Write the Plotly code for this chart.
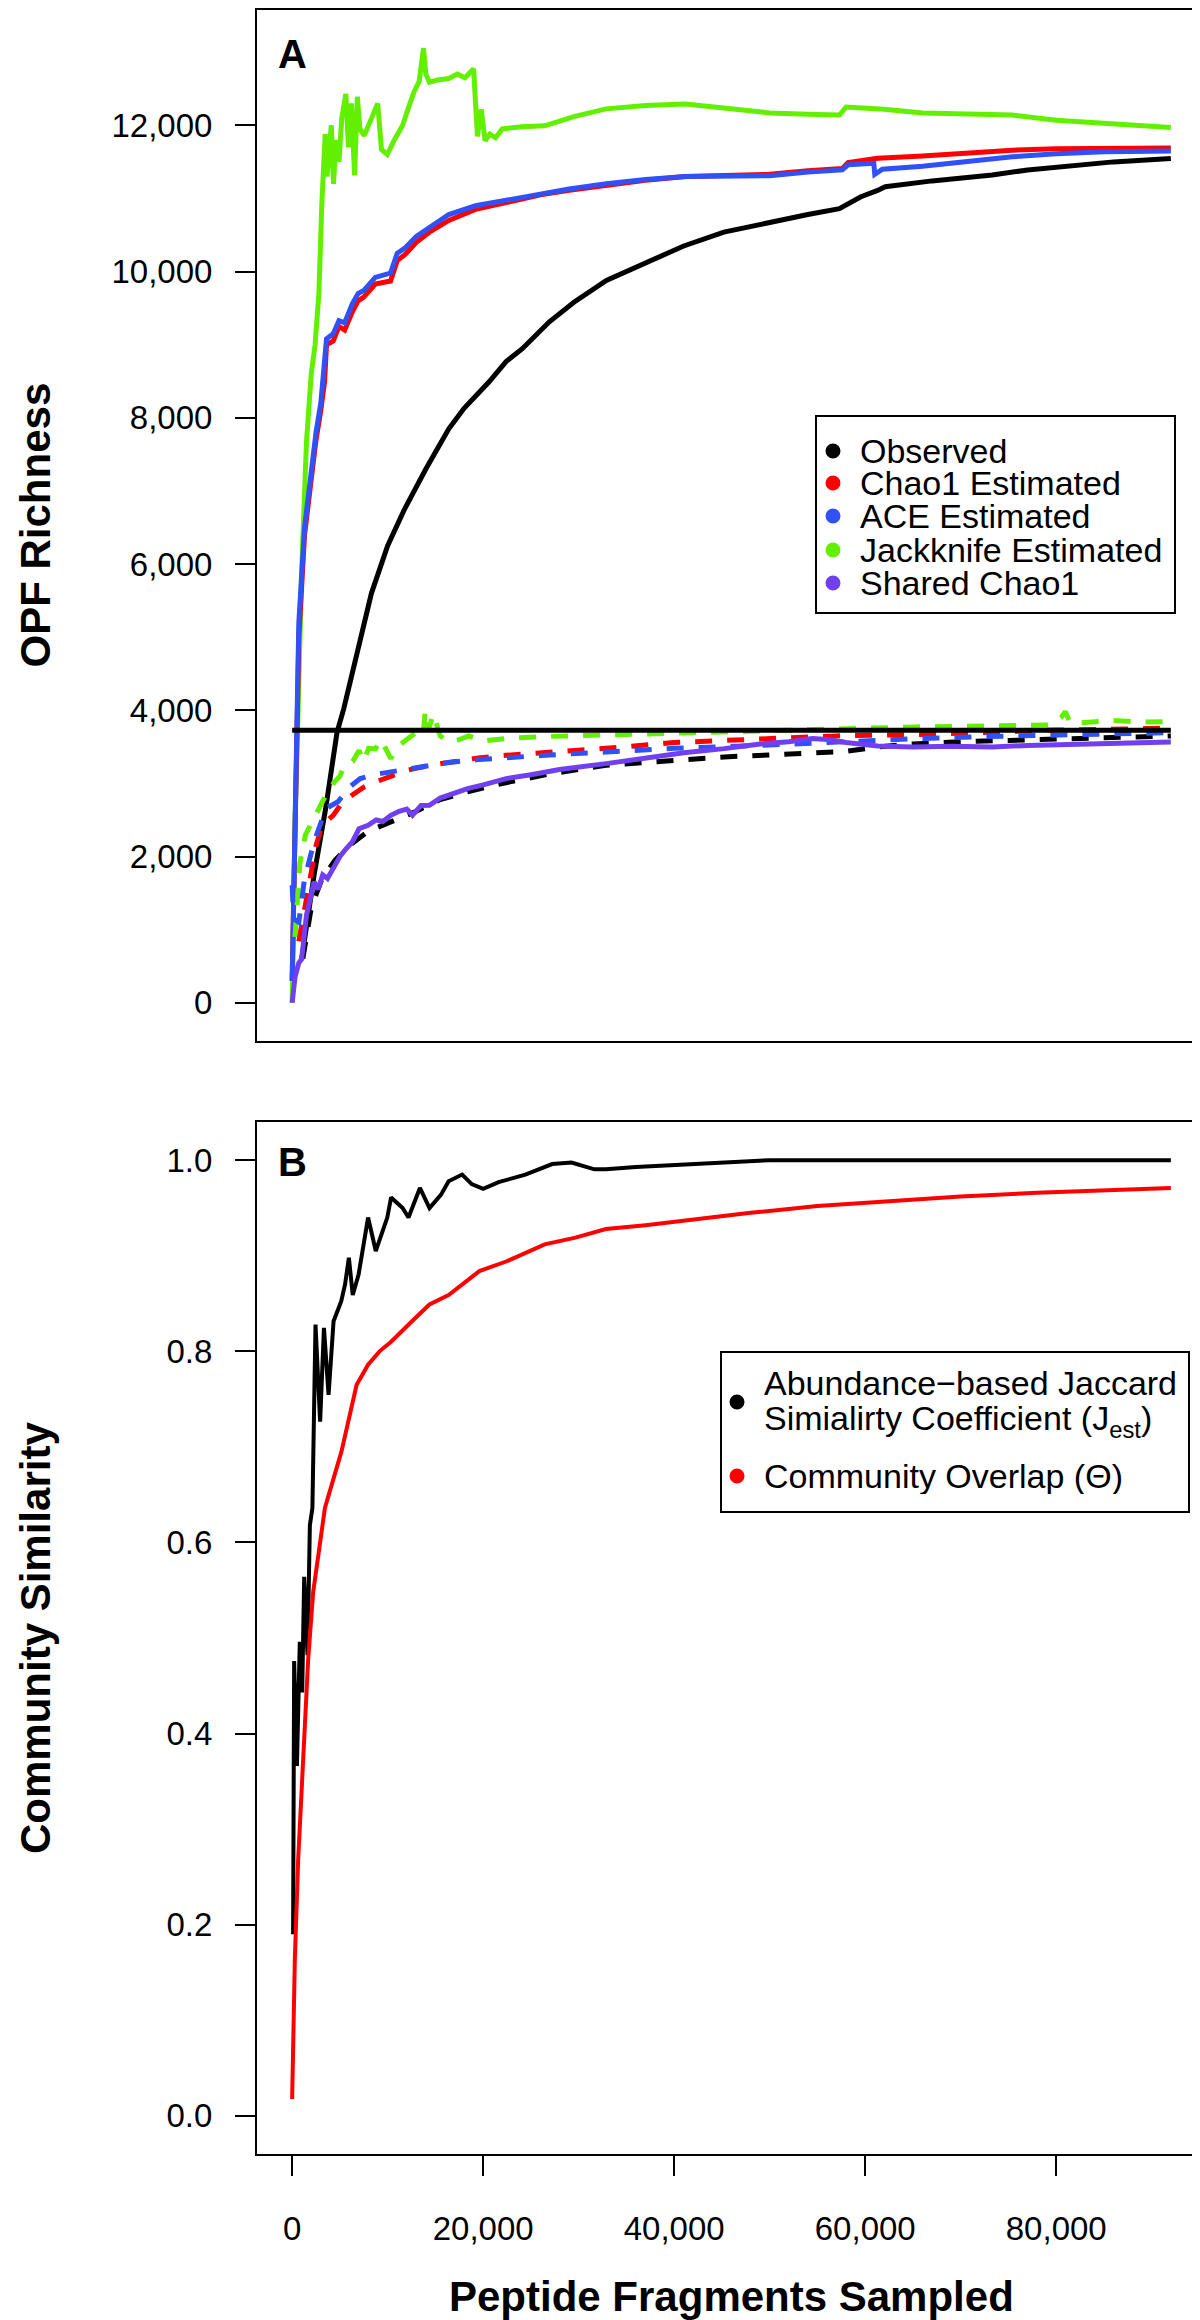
import plotly.graph_objects as go

# ---------------- Panel A data (OPF richness) ----------------
OBS_X = [1000, 2300, 3500, 4700, 5400, 6700, 8300, 10000, 11800, 14000, 16400, 18000, 20600, 22400, 24100,
         26900, 29500, 32900, 37200, 41000, 45200, 50000, 54000, 57300, 58200, 59500, 61300, 62100, 67000,
         73300, 77000, 81400, 86000, 92000]
OBS_Y = [600, 1750, 2650, 3700, 4020, 4700, 5600, 6250, 6760, 7300, 7850, 8130, 8490, 8770, 8945,
         9310, 9580, 9880, 10130, 10350, 10540, 10680, 10780, 10860, 10930, 11020, 11110, 11160, 11240,
         11320, 11390, 11450, 11500, 11545]

CHAO_X = [0, 300, 700, 1300, 2000, 2500, 3000, 3400, 3600, 4300, 4900, 5500, 6300, 6900, 7500, 8700, 10300,
          11000, 11800, 13000, 14500, 16400, 19200, 22400, 26000, 29000, 32900, 37000, 41200, 46000, 50000,
          54000, 57600, 58200, 61300, 66000, 70000, 75400, 80000, 85000, 92000]
CHAO_Y = [300, 2000, 5000, 6400, 7250, 7700, 8100, 8500, 9000, 9050, 9250, 9200, 9450, 9600, 9650, 9830, 9870,
          10150, 10230, 10400, 10550, 10700, 10850, 10940, 11050, 11110, 11180, 11250, 11300, 11320, 11330,
          11380, 11410, 11490, 11550, 11580, 11620, 11660, 11680, 11690, 11690]

ACE_X = [0, 300, 700, 1300, 2000, 2500, 3000, 3400, 3600, 4300, 4900, 5500, 6300, 6900, 7500, 8700, 10300,
         11000, 11800, 13000, 14500, 16400, 19200, 22400, 26000, 29000, 32900, 37000, 41200, 46000, 50000,
         54000, 57600, 58200, 60900, 61000, 61800, 66000, 70000, 75400, 80000, 85000, 92000]
ACE_Y = [300, 2200, 5200, 6500, 7350, 7800, 8200, 8800, 9080, 9150, 9330, 9300, 9560, 9700, 9740, 9920, 9980,
         10250, 10320, 10480, 10620, 10780, 10900, 10980, 11070, 11130, 11200, 11260, 11300, 11300, 11310,
         11360, 11390, 11460, 11480, 11330, 11400, 11440, 11500, 11570, 11610, 11640, 11650]

JACK_X = [0, 300, 630, 980, 1500, 2000, 2400, 2800, 3100, 3300, 3460, 3650, 3900, 4100, 4330, 4600, 4900,
          5200, 5620, 5900, 6200, 6540, 6825, 7100, 7550, 8000, 8500, 8960, 9350, 9960, 10700, 11570, 12200,
          12770, 13300, 13750, 14000, 14380, 15200, 16380, 17300, 18100, 19000, 19200, 19400, 19800, 20200,
          20700, 21300, 22000, 24000, 26440, 29500, 32860, 37000, 41200, 45000, 50000, 54000, 57300, 58000,
          62000, 66000, 70000, 75400, 80000, 86000, 92000]
JACK_Y = [0, 2500, 4020, 5845, 7670, 8600, 9000, 9700, 10900, 11500, 11880, 11300, 11700, 12000, 11200, 11800,
          11500, 12100, 12430, 11700, 12300, 11314, 12390, 11950, 11860, 12000, 12150, 12300, 11670, 11600,
          11800, 12000, 12250, 12460, 12600, 13055, 12700, 12590, 12620, 12640, 12700, 12650, 12773, 12300,
          11850, 12220, 11790, 11880, 11830, 11950, 11980, 11993, 12120, 12225, 12270, 12290, 12240, 12170,
          12150, 12140, 12250, 12220, 12170, 12160, 12140, 12070, 12020, 11970]

# dashed (shared) series
OBSS_X = [1120, 2000, 3130, 4500, 6000, 8000, 10330, 13000, 15500, 18370, 22000, 27000, 32860, 38000, 45230,
          50000, 54480, 58000, 61310, 65000, 69330, 75000, 81370, 87000, 92000]
OBSS_Y = [606, 1300, 1700, 1950, 2150, 2350, 2474, 2620, 2780, 2885, 3000, 3130, 3248, 3300, 3363,
          3390, 3418, 3440, 3500, 3540, 3568, 3590, 3613, 3630, 3650]

CHAOS_X = [700, 1300, 1900, 2500, 3130, 4300, 5300, 6340, 7500, 8740, 10500, 12000, 14370, 17000, 19500, 22410,
           27000, 32860, 40000, 49240, 57000, 65300, 72000, 80000, 89430, 92000]
CHAOS_Y = [840, 1300, 1745, 2150, 2428, 2565, 2750, 2838, 2950, 3021, 3100, 3180, 3248, 3300, 3350, 3385,
           3420, 3480, 3560, 3613, 3650, 3669, 3700, 3730, 3750, 3760]

ACES_X = [0, 150, 700, 1300, 2310, 3530, 4800, 6000, 7130, 8500, 10330, 13000, 15500, 18370, 22000, 27000,
          32860, 40000, 49240, 57000, 65300, 72000, 80000, 86000, 92000]
ACES_Y = [1608, 1150, 1100, 1700, 2206, 2656, 2750, 2950, 3066, 3120, 3158, 3220, 3270, 3317, 3350, 3390,
          3430, 3480, 3521, 3570, 3613, 3640, 3660, 3680, 3695]

JACKS_X = [300, 800, 1400, 1900, 2600, 3530, 4300, 5000, 5500, 6340, 7000, 7500, 8000, 8740, 9300, 10330,
           11000, 12000, 13000, 13700, 13940, 14300, 14800, 15500, 16380, 17500, 18500, 20000, 22410, 26000,
           29000, 32860, 38000, 43000, 49240, 55000, 60000, 65300, 70000, 74000, 77380, 79500, 80500, 80940,
           81500, 83000, 86000, 89000, 92000]
JACKS_Y = [900, 1900, 2300, 2430, 2600, 2840, 3000, 3100, 3250, 3300, 3450, 3300, 3480, 3476, 3600, 3340,
           3500, 3600, 3700, 3650, 4000, 3750, 3950, 3650, 3570, 3600, 3650, 3580, 3614, 3640,
           3650, 3660, 3690, 3710, 3727, 3740, 3760, 3773, 3780, 3790, 3795, 3800, 3900, 3982,
           3820, 3830, 3860, 3840, 3845]

SHARED_X = [0, 300, 700, 1000, 1500, 2000, 2310, 2700, 3200, 3700, 4300, 5000, 5600, 6300, 7000, 7950, 8800,
            9500, 10330, 11200, 12000, 12600, 13500, 14370, 15500, 16500, 18370, 20000, 22410, 25000, 28000,
            32860, 37000, 41000, 45230, 49000, 52000, 54480, 56000, 58000, 61310, 65000, 69000, 73350, 77000,
            81370, 86000, 92000]
SHARED_Y = [0, 350, 548, 600, 1200, 1500, 1654, 1550, 1750, 1700, 1836, 2000, 2100, 2200, 2380, 2428, 2500,
            2480, 2565, 2620, 2650, 2565, 2700, 2702, 2800, 2850, 2930, 2980, 3066, 3120, 3190,
            3271, 3350, 3420, 3476, 3540, 3570, 3613, 3600, 3560, 3512, 3500, 3510, 3500, 3520,
            3530, 3545, 3567]

HLINE_X = [0, 92000]
HLINE_Y = [3727, 3727]

# ---------------- Panel B data (community similarity) ----------------
JAC_X = [100, 210, 500, 800, 1050, 1260, 1610, 1855, 2121, 2200, 2446, 2929, 3330, 3813, 4336, 5140, 5540,
         5940, 6342, 6950, 7950, 8755, 9960, 10360, 11570, 12180, 13380, 14380, 15590, 16380, 17800, 18800,
         20000, 21620, 24420, 27230, 29250, 31650, 32860, 36000, 40000, 45000, 50000, 55000, 60000, 65000,
         70000, 75000, 80000, 86000, 92000]
JAC_Y = [0.19, 0.476, 0.366, 0.496, 0.443, 0.564, 0.482, 0.618, 0.636, 0.688, 0.828, 0.7265, 0.8245, 0.7545,
         0.8315, 0.8525, 0.870, 0.898, 0.859, 0.880, 0.940, 0.905, 0.940, 0.961, 0.950, 0.940, 0.971, 0.950,
         0.964, 0.978, 0.985, 0.975, 0.970, 0.977, 0.985, 0.996, 0.9975, 0.9905, 0.9905, 0.993, 0.995, 0.998,
         1.0, 1.0, 1.0, 1.0, 0.999, 1.0, 0.999, 1.0, 1.0]

OVL_X = [0, 280, 630, 980, 1330, 1680, 2200, 2730, 3430, 4130, 5160, 6750, 7950, 9150, 10360, 12600, 14380,
         16380, 19600, 22410, 26440, 29650, 32860, 37000, 42000, 48000, 55000, 62000, 70000, 78000, 85000, 92000]
OVL_Y = [0.0175, 0.163, 0.268, 0.338, 0.408, 0.478, 0.548, 0.583, 0.636, 0.66, 0.695, 0.765, 0.786, 0.80, 0.81,
         0.832, 0.849, 0.859, 0.884, 0.894, 0.912, 0.919, 0.928, 0.932, 0.938, 0.945, 0.952, 0.957, 0.962,
         0.966, 0.969, 0.971]

# ---------------- ticks / labels ----------------
A_TICKS = [0, 2000, 4000, 6000, 8000, 10000, 12000]
A_TICK_LABELS = ["0", "2,000", "4,000", "6,000", "8,000", "10,000", "12,000"]
B_TICKS = [0.0, 0.2, 0.4, 0.6, 0.8, 1.0]
B_TICK_LABELS = ["0.0", "0.2", "0.4", "0.6", "0.8", "1.0"]
X_TICKS = [0, 20000, 40000, 60000, 80000]
X_TICK_LABELS = ["0", "20,000", "40,000", "60,000", "80,000"]

LEGEND_A = ["Observed", "Chao1 Estimated", "ACE Estimated", "Jackknife Estimated", "Shared Chao1"]
LEGEND_B = ["Abundance\u2212based Jaccard", "Simialirty Coefficient (J<sub>est</sub>)", "Community Overlap (\u0398)"]

# ---------------- style ----------------
FONT = "Liberation Sans, Arial, Helvetica, sans-serif"
BLACK, RED, BLUE, GREEN, PURPLE = "#000000", "#FF0000", "#3050F8", "#62F000", "#7040F0"
W, H = 1200, 2320
LW_A, LW_B = 5, 4
DASH = "17px,15px"

fig = go.Figure()

def add(x, y, color, axis, width, dash=None):
    xa, ya = axis
    fig.add_trace(go.Scatter(x=x, y=y, mode="lines", xaxis=xa, yaxis=ya, showlegend=False,
                             hoverinfo="skip",
                             line=dict(color=color, width=width, dash=dash or "solid")))

A = ("x", "y")
B = ("x2", "y2")
add(JACK_X, JACK_Y, GREEN, A, LW_A)
add(CHAO_X, CHAO_Y, RED, A, LW_A)
add(ACE_X, ACE_Y, BLUE, A, LW_A)
add(OBS_X, OBS_Y, BLACK, A, LW_A)
add(OBSS_X, OBSS_Y, BLACK, A, LW_A, DASH)
add(JACKS_X, JACKS_Y, GREEN, A, LW_A, DASH)
add(CHAOS_X, CHAOS_Y, RED, A, LW_A, DASH)
add(ACES_X, ACES_Y, BLUE, A, LW_A, DASH)
add(HLINE_X, HLINE_Y, BLACK, A, LW_A)
add(SHARED_X, SHARED_Y, PURPLE, A, LW_A)

add(JAC_X, JAC_Y, BLACK, B, LW_B)
add(OVL_X, OVL_Y, RED, B, LW_B)

def py(ypix):
    return 1 - ypix / H

def px(xpix):
    return xpix / W

XDOM = [px(249), px(1198)]
A_DOM = [py(1033), py(2)]
B_DOM = [py(2146), py(1114)]
XRANGE = [-3680, 95680]

box = dict(showline=True, mirror=True, linecolor="black", linewidth=2, showgrid=False, zeroline=False)
tick = dict(ticks="outside", ticklen=20, tickwidth=2, tickcolor="black",
            tickfont=dict(family=FONT, size=33, color="black"))

fig.update_layout(
    width=W, height=H, autosize=False,
    margin=dict(l=0, r=0, t=0, b=0),
    paper_bgcolor="white", plot_bgcolor="white",
    showlegend=False,
    font=dict(family=FONT, size=33, color="black"),
    xaxis=dict(domain=XDOM, range=XRANGE, anchor="y", showticklabels=False, ticks="", **box),
    yaxis=dict(domain=A_DOM, range=[-522, 13577], anchor="x", tickvals=A_TICKS, ticktext=A_TICK_LABELS,
               ticklabelstandoff=16, **box, **tick),
    xaxis2=dict(domain=XDOM, range=XRANGE, anchor="y2", tickvals=X_TICKS, ticktext=X_TICK_LABELS,
                ticklabelstandoff=24, **box, **tick),
    yaxis2=dict(domain=B_DOM, range=[-0.04, 1.04], anchor="x2", tickvals=B_TICKS, ticktext=B_TICK_LABELS,
                ticklabelstandoff=16, **box, **tick),
)

ann = []
def text(x, y, s, size=34, bold=False, angle=0, xanchor="center", yanchor="middle", height=None):
    a = dict(x=x, y=y, xref="paper", yref="paper", text=("<b>%s</b>" % s) if bold else s,
             showarrow=False, textangle=angle, xanchor=xanchor, yanchor=yanchor,
             font=dict(family=FONT, size=size, color="black"))
    if height:
        a["height"] = height
    ann.append(a)

text(px(27), py(517.5), "OPF Richness", size=42, bold=True, angle=-90)
text(px(27), py(1630), "Community Similarity", size=42, bold=True, angle=-90)
text(px(723.5), py(2288), "Peptide Fragments Sampled", size=42, bold=True)
text(px(284), py(46), "A", size=40, bold=True)
text(px(284), py(1154), "B", size=40, bold=True)

shapes = []
def rect(x0, y0, x1, y1):
    shapes.append(dict(type="rect", xref="paper", yref="paper", x0=px(x0), x1=px(x1), y0=py(y1), y1=py(y0),
                       line=dict(color="black", width=2), fillcolor="white", layer="above"))

def dot(xc, yc, color, r=7.5):
    shapes.append(dict(type="circle", xref="paper", yref="paper", xsizemode="pixel", ysizemode="pixel",
                       xanchor=px(xc), yanchor=py(yc), x0=-r, x1=r, y0=-r, y1=r,
                       line=dict(color=color, width=0), fillcolor=color, layer="above"))

# legend A
rect(808, 408, 1167, 605)
for label, color, yc in zip(LEGEND_A, [BLACK, RED, BLUE, GREEN, PURPLE], [443, 475, 508, 542, 575]):
    dot(825, yc, color)
    text(px(850), py(yc), label, xanchor="left", height=32)

# legend B
rect(713, 1344, 1181, 1504)
dot(729, 1394, BLACK)
dot(729, 1468, RED)
text(px(754), py(1375), LEGEND_B[0], xanchor="left", height=36)
text(px(754), py(1413), LEGEND_B[1], xanchor="left", height=36)
text(px(754), py(1468), LEGEND_B[2], xanchor="left", height=36)

fig.update_layout(annotations=ann, shapes=shapes)
fig.write_html("out.html")
